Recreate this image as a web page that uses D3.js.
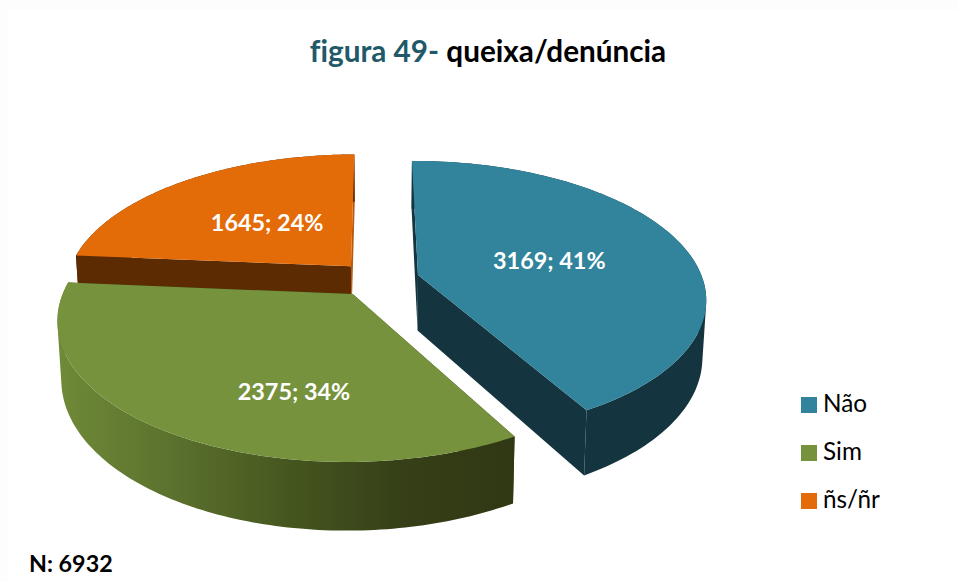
<!DOCTYPE html>
<html lang="pt"><head><meta charset="utf-8">
<script src="https://cdn.jsdelivr.net/npm/d3@7/dist/d3.min.js"></script>
<style>
html,body{margin:0;padding:0;background:#fdfdfd;}
svg{display:block;}
text{font-family:Lato,"Open Sans",sans-serif;font-variant-ligatures:none;}
</style></head><body>
<svg id="chart" width="957" height="582"></svg>
<script>
// --- data ---
const categories = ["Não", "Sim", "ñs/ñr"];
const counts = [3169, 2375, 1645];
const percents = [41, 34, 24];
const sliceShares = [41.9, 34.5, 23.6];   // angular share of each slice
const sampleSize = 6932;

// --- styles / layout ---
const topColors = ["#31849b", "#76923c", "#e36c09"];
const wallColors = ["#14343f", "#303914", "#5c2b02"];
const endWallColors = ["#14343f", "#303914", "#b85a0c"];
const greenWall = ["#6f8a38", "#5b712d", "#45571f", "#363f17", "#2f3813"];
const explode = [[0.12, -0.14], [-0.108, 0], [-0.118, -0.2065]];
const labelShift = [[-2, 3], [28, 35], [4, 2]];
const drawOrder = [2, 1, 0];
const P = 0.17, DEPTH = 57, SHRINK = 0.012;

const svg = d3.select("#chart");
const x = d3.scaleLinear().domain([-1, 1]).range([384 - 290, 384 + 290]);
const y = d3.scaleLinear().domain([-1, 1]).range([294 - 139.4, 294 + 139.4]);
const TAU = Math.PI * 2;

svg.append("rect").attr("x", 8).attr("y", 10).attr("width", 949).attr("height", 572).attr("fill", "#fff");

const arcs = d3.pie().sort(null).startAngle(-0.005).endAngle(TAU - 0.005)(sliceShares);

function project(theta, r, i, h) {
  const U = r * Math.sin(theta) + explode[i][0];
  const V = -r * Math.cos(theta) + explode[i][1];
  const w = 1 - P * V;
  const k = 1 - SHRINK * h;
  return [x(0) + (x(U / w) - x(0)) * k, y(V / w) + DEPTH * h / w];
}
const line = d3.line();
const STEPS = 120;
const rim = (a, i, h) => d3.range(0, STEPS + 1).map(t =>
  project(a.startAngle + (a.endAngle - a.startAngle) * t / STEPS, 1, i, h));

const defs = svg.append("defs");
const grad = defs.append("linearGradient").attr("id", "greenWall")
  .attr("gradientUnits", "userSpaceOnUse").attr("x1", 58).attr("x2", 518).attr("y1", 0).attr("y2", 0);
greenWall.forEach((c, k) => grad.append("stop").attr("offset", k / (greenWall.length - 1)).attr("stop-color", c));

drawOrder.forEach(i => {
  const a = arcs[i];
  const g = svg.append("g");
  const wallFill = i === 1 ? "url(#greenWall)" : wallColors[i];
  const apexT = project(0, 0, i, 0), apexB = project(0, 0, i, 1);
  g.append("path")
    .attr("d", line([apexT, project(a.startAngle, 1, i, 0), project(a.startAngle, 1, i, 1), apexB]) + "Z")
    .attr("fill", wallColors[i]);
  g.append("path")
    .attr("d", line([apexT, project(a.endAngle, 1, i, 0), project(a.endAngle, 1, i, 1), apexB]) + "Z")
    .attr("fill", endWallColors[i]);
  // curved outer wall: one path of swept quads, all wound alike, so the silhouette is the full hull
  const top = rim(a, i, 0), bottom = rim(a, i, 1);
  const sweep = d3.range(0, STEPS).map(t => {
    const quad = [top[t], top[t + 1], bottom[t + 1], bottom[t]];
    return line(d3.polygonArea(quad) < 0 ? quad.reverse() : quad) + "Z";
  }).join("");
  g.append("path").attr("d", sweep).attr("fill", wallFill);
  g.append("path")
    .attr("d", line([apexT].concat(top)) + "Z")
    .attr("fill", topColors[i]);
});

// data labels
arcs.forEach((a, i) => {
  const p = project((a.startAngle + a.endAngle) / 2, 0.5, i, 0);
  svg.append("text")
    .attr("x", p[0] + labelShift[i][0]).attr("y", p[1] + labelShift[i][1] + 8)
    .attr("text-anchor", "middle").attr("fill", "#fff")
    .attr("font-size", 23.4).attr("font-weight", 700)
    .text(`${counts[i]}; ${percents[i]}%`);
});

// title
const title = svg.append("text").attr("x", 488).attr("y", 62).attr("text-anchor", "middle")
  .attr("font-size", 29.7).attr("font-weight", 700);
title.append("tspan").attr("fill", "#215968").text("figura 49- ");
title.append("tspan").attr("fill", "#000").text("queixa/denúncia");

// legend
const legendY = d3.scalePoint().domain(categories).range([405, 501]);
const legend = svg.append("g").selectAll("g").data(categories).join("g")
  .attr("transform", d => `translate(0,${legendY(d)})`);
legend.append("rect").attr("x", 801).attr("y", -8).attr("width", 16).attr("height", 16)
  .attr("fill", (d, i) => topColors[i]);
legend.append("text").attr("x", 823).attr("y", 7).attr("font-size", 24.3).attr("fill", "#000").text(d => d);

// sample size
svg.append("text").attr("x", 29).attr("y", 572).attr("font-size", 23.3).attr("font-weight", 700)
  .attr("fill", "#000").text(`N: ${sampleSize}`);
</script>
</body></html>
